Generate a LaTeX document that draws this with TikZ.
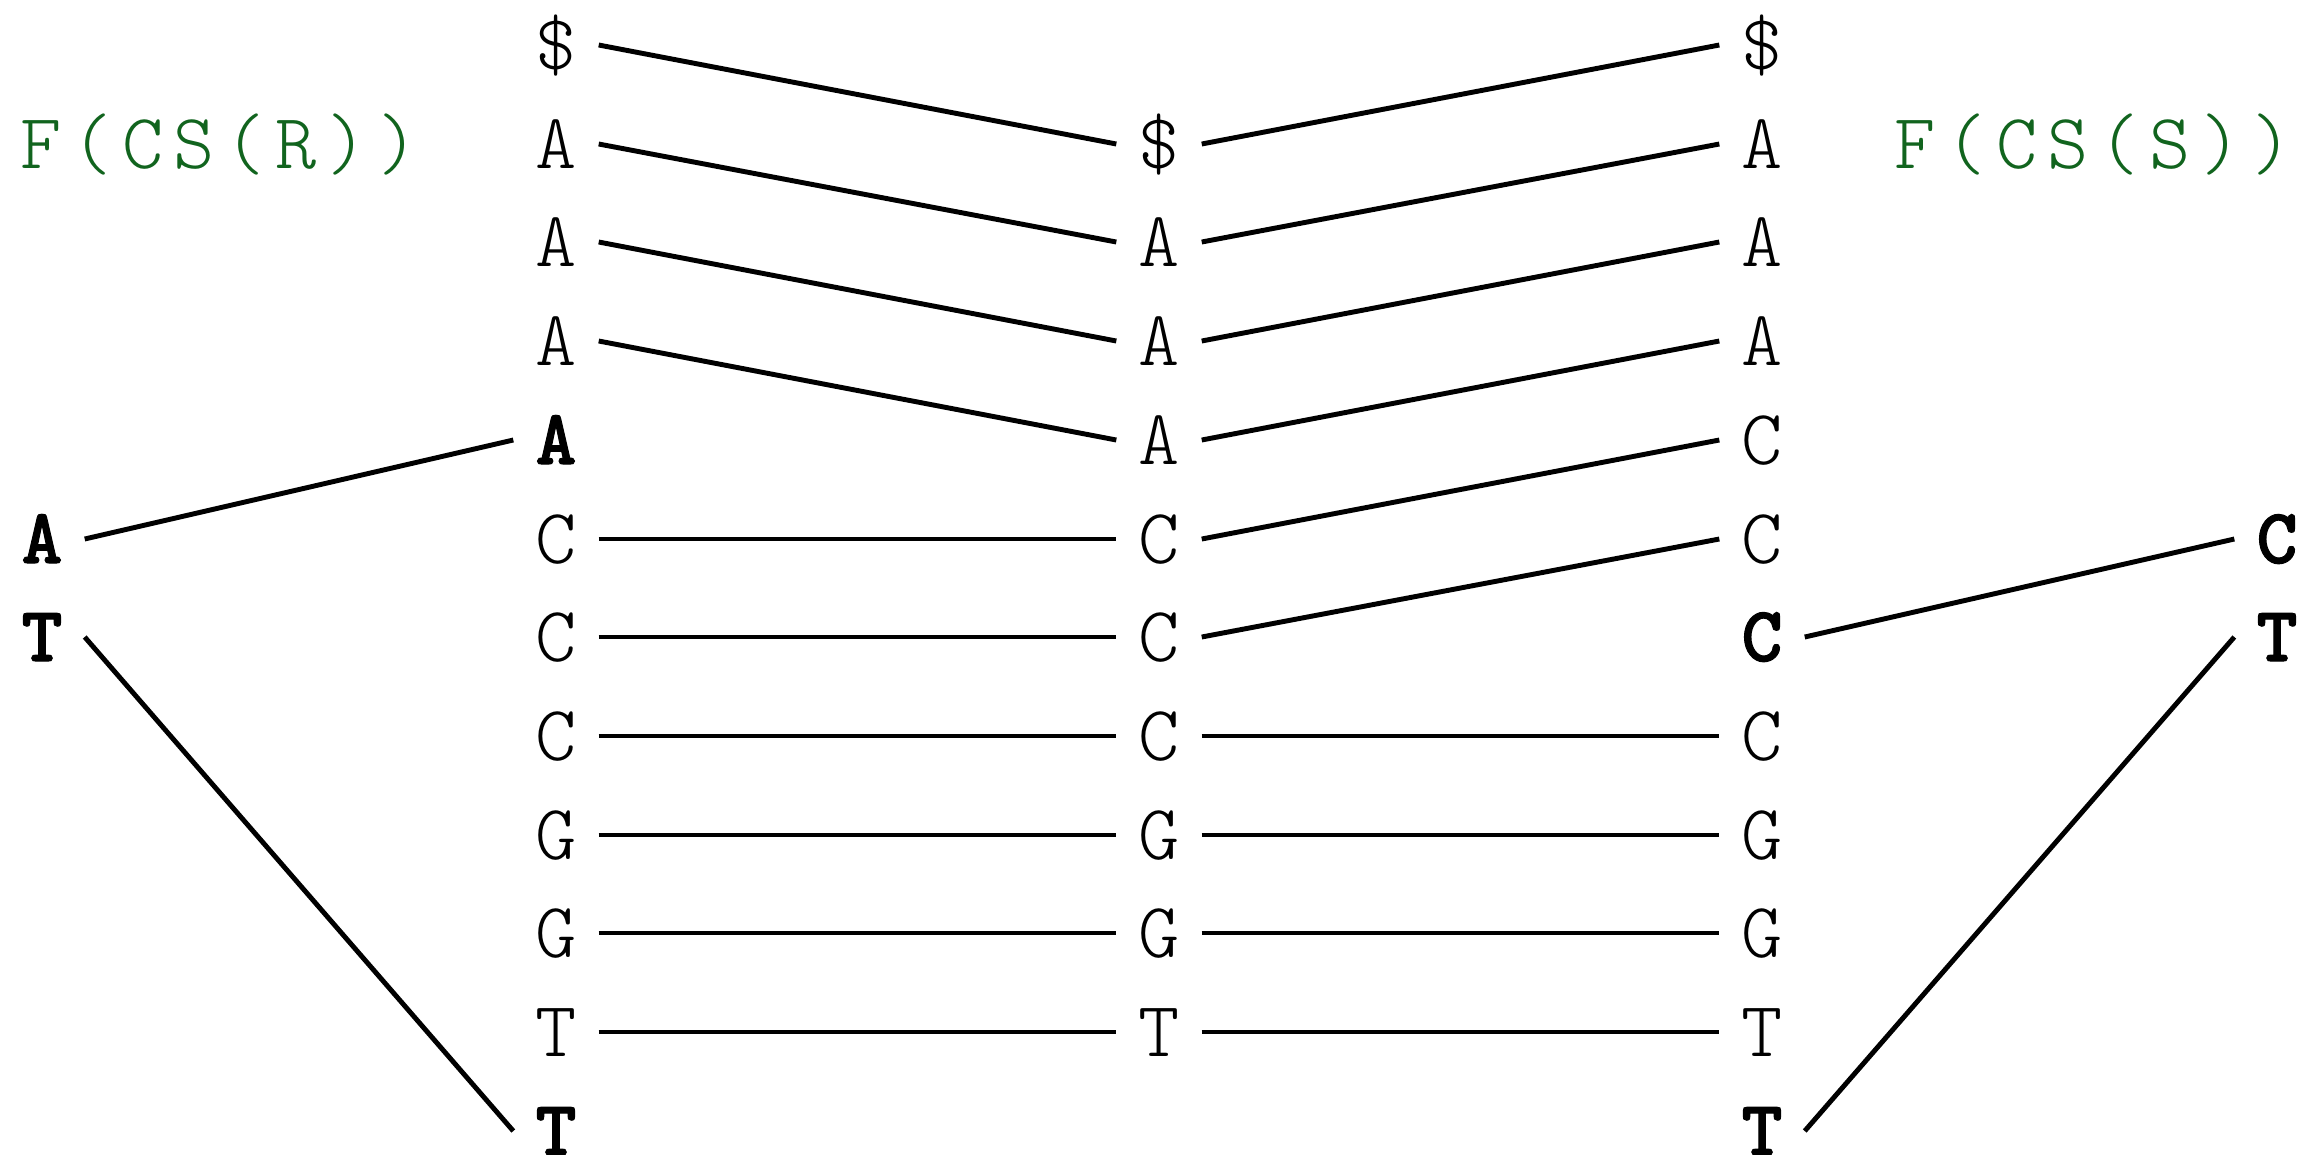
\documentclass[tikz,border=0pt]{standalone}
\usepackage{fontspec}
\usepackage{tikz}
\newfontfamily\seqfont[BoldFeatures={FakeBold=1.3}]{Latin Modern Mono Light}
\newfontfamily\namefont[LetterSpace=12.5]{Latin Modern Mono Light}
\definecolor{namegreen}{RGB}{17,100,30}
\pgfdeclarelayer{edgelayer}
\pgfdeclarelayer{nodelayer}
\pgfsetlayers{edgelayer,nodelayer,main}
\tikzstyle{none}=[inner sep=0pt]
\tikzstyle{edge}=[draw=black, line width=1.4pt]
\tikzstyle{sym}=[inner sep=0pt, minimum width=0.84cm, text height=0.48cm, text depth=0pt, font={\seqfont\fontsize{22.3pt}{24pt}\selectfont}]
\tikzstyle{hitsym}=[sym, font={\seqfont\bfseries\fontsize{22.3pt}{24pt}\selectfont}]
\tikzstyle{seqname}=[inner sep=0pt, anchor=west, text height=0.48cm, text depth=0pt, text=namegreen, font={\namefont\fontsize{22.3pt}{24pt}\selectfont}]

\begin{document}
\begin{tikzpicture}
			\useasboundingbox (0, 0) rectangle (23.19, -11.54);
			\begin{pgfonlayer}{nodelayer}
			% first column
			\node [style=sym] (0) at (5.56, -0.45) {\$};
			\node [style=sym] (1) at (5.56, -1.44) {A};
			\node [style=sym] (2) at (5.56, -2.42) {A};
			\node [style=sym] (3) at (5.56, -3.41) {A};
			\node [style=hitsym] (4) at (5.56, -4.40) {A};
			\node [style=sym] (5) at (5.56, -5.39) {C};
			\node [style=sym] (6) at (5.56, -6.37) {C};
			\node [style=sym] (7) at (5.56, -7.36) {C};
			\node [style=sym] (8) at (5.56, -8.35) {G};
			\node [style=sym] (9) at (5.56, -9.33) {G};
			\node [style=sym] (10) at (5.56, -10.32) {T};
			\node [style=hitsym] (11) at (5.56, -11.31) {T};
			% middle column
			\node [style=sym] (12) at (11.59, -1.44) {\$};
			\node [style=sym] (13) at (11.59, -2.42) {A};
			\node [style=sym] (14) at (11.59, -3.41) {A};
			\node [style=sym] (15) at (11.59, -4.40) {A};
			\node [style=sym] (16) at (11.59, -5.39) {C};
			\node [style=sym] (17) at (11.59, -6.37) {C};
			\node [style=sym] (18) at (11.59, -7.36) {C};
			\node [style=sym] (19) at (11.59, -8.35) {G};
			\node [style=sym] (20) at (11.59, -9.33) {G};
			\node [style=sym] (21) at (11.59, -10.32) {T};
			% third column
			\node [style=sym] (22) at (17.62, -0.45) {\$};
			\node [style=sym] (23) at (17.62, -1.44) {A};
			\node [style=sym] (24) at (17.62, -2.42) {A};
			\node [style=sym] (25) at (17.62, -3.41) {A};
			\node [style=sym] (26) at (17.62, -4.40) {C};
			\node [style=sym] (27) at (17.62, -5.39) {C};
			\node [style=hitsym] (28) at (17.62, -6.37) {C};
			\node [style=sym] (29) at (17.62, -7.36) {C};
			\node [style=sym] (30) at (17.62, -8.35) {G};
			\node [style=sym] (31) at (17.62, -9.33) {G};
			\node [style=sym] (32) at (17.62, -10.32) {T};
			\node [style=hitsym] (33) at (17.62, -11.31) {T};
			% outer letters and names
			\node [style=hitsym] (34) at (0.42, -5.39) {A};
			\node [style=hitsym] (35) at (0.42, -6.37) {T};
			\node [style=hitsym] (36) at (22.77, -5.39) {C};
			\node [style=hitsym] (37) at (22.77, -6.37) {T};
			\node [style=seqname] (38) at (0.20, -1.44) {F(CS(R))};
			\node [style=seqname] (39) at (18.94, -1.44) {F(CS(S))};
			\end{pgfonlayer}
			\begin{pgfonlayer}{edgelayer}
			\draw [style=edge] (0.east) to (12.west);
			\draw [style=edge] (1.east) to (13.west);
			\draw [style=edge] (2.east) to (14.west);
			\draw [style=edge] (3.east) to (15.west);
			\draw [style=edge] (5.east) to (16.west);
			\draw [style=edge] (6.east) to (17.west);
			\draw [style=edge] (7.east) to (18.west);
			\draw [style=edge] (8.east) to (19.west);
			\draw [style=edge] (9.east) to (20.west);
			\draw [style=edge] (10.east) to (21.west);
			\draw [style=edge] (12.east) to (22.west);
			\draw [style=edge] (13.east) to (23.west);
			\draw [style=edge] (14.east) to (24.west);
			\draw [style=edge] (15.east) to (25.west);
			\draw [style=edge] (16.east) to (26.west);
			\draw [style=edge] (17.east) to (27.west);
			\draw [style=edge] (18.east) to (29.west);
			\draw [style=edge] (19.east) to (30.west);
			\draw [style=edge] (20.east) to (31.west);
			\draw [style=edge] (21.east) to (32.west);
			\draw [style=edge] (34.east) to (4.west);
			\draw [style=edge] (35.east) to (11.west);
			\draw [style=edge] (28.east) to (36.west);
			\draw [style=edge] (33.east) to (37.west);
			\end{pgfonlayer}
\end{tikzpicture}
\end{document}
